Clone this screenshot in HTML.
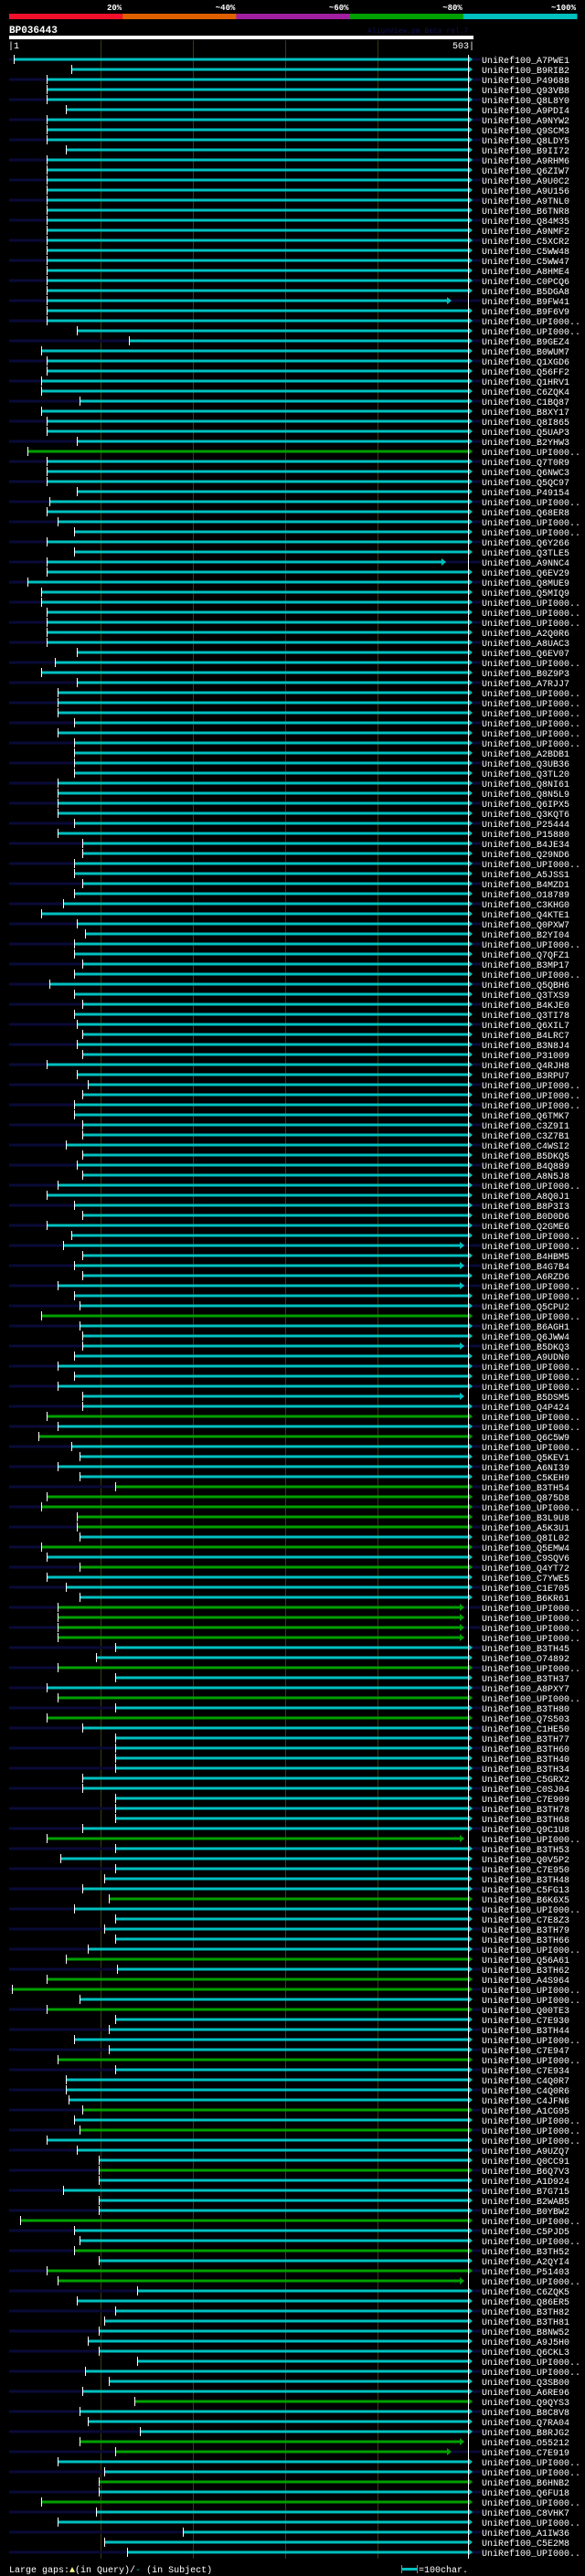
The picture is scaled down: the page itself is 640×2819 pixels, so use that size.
<!DOCTYPE html>
<html><head><meta charset="utf-8">
<style>
html,body{margin:0;padding:0;background:#000;}
svg{display:block;}
text{font-family:"Liberation Mono","DejaVu Sans Mono",monospace;}
</style></head>
<body>
<svg id="chart" width="640" height="2819" viewBox="0 0 640 2819" xmlns="http://www.w3.org/2000/svg">
  <rect x="0" y="0" width="640" height="2819" fill="#000"/>
  <g id="identity-scale"></g>
  <text x="10" y="36" fill="#fff" font-size="11" font-weight="bold">BP036443</text>
  <text x="402" y="36" fill="#10104a" font-size="8">AlignView.pm Beta rel.7</text>
  <rect x="10" y="39" width="508" height="4" fill="#fff"/>
  <text x="9" y="53" fill="#fff" font-size="10">|1</text>
  <text x="519" y="53" fill="#fff" font-size="10" text-anchor="end">503|</text>
  <g id="grid"></g>
  <g id="rows"></g>
  <rect x="512" y="60" width="1" height="2740" fill="#fff"/>
  <text x="10" y="2815" fill="#fff" font-size="10">Large gaps:<tspan fill="#ffff80">▲</tspan>(in Query)/<tspan fill="#00c0c0">-</tspan> (in Subject)</text>
  <g>
    <rect x="439" y="2810" width="17" height="3" fill="#00c0c0"/>
    <rect x="439" y="2807" width="1" height="9" fill="#888"/>
    <rect x="456" y="2807" width="1" height="9" fill="#888"/>
    <text x="458" y="2815" fill="#fff" font-size="10">=100char.</text>
  </g>
</svg>
<script>
const scaleLabels = ["20%","~40%","~60%","~80%","~100%"];
const scaleColors = ["#f0102a","#e06000","#a020a0","#00a000","#00c0c0"];
const gridResidues = [101, 202, 303, 404];
const queryLength = 503;

const names = ["A7PWE1","B9RIB2","P49688","Q93VB8","Q8L8Y0","A9PDI4","A9NYW2","Q9SCM3","Q8LDY5","B9II72","A9RHM6","Q6ZIW7","A9U0C2","A9U156","A9TNL0","B6TNR8","Q84M35","A9NMF2","C5XCR2","C5WW48","C5WW47","A8HME4","C0PCQ6","B5DGA8","B9FW41","B9F6V9","UPI000..",
"UPI000..","B9GEZ4","B0WUM7","Q1XGD6","Q56FF2","Q1HRV1","C6ZQK4","C1BQ87","B8XY17","Q8I865","Q5UAP3","B2YHW3","UPI000..","Q7T0R9","Q6NWC3","Q5QC97","P49154","UPI000..","Q68ER8","UPI000..","UPI000..","Q6Y266","Q3TLE5","A9NNC4","Q6EV29","Q8MUE9","Q5MIQ9",
"UPI000..","UPI000..","UPI000..","A2Q0R6","A8UAC3","Q6EV07","UPI000..","B0Z9P3","A7RJJ7","UPI000..","UPI000..","UPI000..","UPI000..","UPI000..","UPI000..","A2BDB1","Q3UB36","Q3TL20","Q8NI61","Q8N5L9","Q6IPX5","Q3KQT6","P25444","P15880","B4JE34","Q29ND6","UPI000..",
"A5JSS1","B4MZD1","O18789","C3KHG0","Q4KTE1","Q0PXW7","B2YI04","UPI000..","Q7QFZ1","B3MP17","UPI000..","Q5QBH6","Q3TXS9","B4KJE0","Q3TI78","Q6XIL7","B4LRC7","B3N8J4","P31009","Q4RJH8","B3RPU7","UPI000..","UPI000..","UPI000..","Q6TMK7","C3Z9I1","C3Z7B1",
"C4WSI2","B5DKQ5","B4Q889","A8N5J8","UPI000..","A8Q0J1","B8P3I3","B0D0D6","Q2GME6","UPI000..","UPI000..","B4HBM5","B4G7B4","A6RZD6","UPI000..","UPI000..","Q5CPU2","UPI000..","B6AGH1","Q6JWW4","B5DKQ3","A9UDN0","UPI000..","UPI000..","UPI000..","B5DSM5","Q4P424",
"UPI000..","UPI000..","Q6C5W9","UPI000..","Q5KEV1","A6NI39","C5KEH9","B3TH54","Q875D8","UPI000..","B3L9U8","A5K3U1","Q8IL02","Q5EMW4","C9SQV6","Q4YT72","C7YWE5","C1E705","B6KR61","UPI000..","UPI000..","UPI000..","UPI000..","B3TH45","O74892","UPI000..","B3TH37",
"A8PXY7","UPI000..","B3TH80","Q7S503","C1HE50","B3TH77","B3TH60","B3TH40","B3TH34","C5GRX2","C0SJ04","C7E909","B3TH78","B3TH68","Q9C1U8","UPI000..","B3TH53","Q0V5P2","C7E950","B3TH48","C5FG13","B6K6X5","UPI000..","C7E8Z3","B3TH79","B3TH66","UPI000..",
"Q56A61","B3TH62","A4S964","UPI000..","UPI000..","Q00TE3","C7E930","B3TH44","UPI000..","C7E947","UPI000..","C7E934","C4Q0R7","C4Q0R6","C4JFN6","A1CG95","UPI000..","UPI000..","UPI000..","A9UZQ7","Q0CC91","B6Q7V3","A1D924","B7G715","B2WAB5","B0YBW2","UPI000..",
"C5PJD5","UPI000..","B3TH52","A2QYI4","P51403","UPI000..","C6ZQK5","Q86ER5","B3TH82","B3TH81","B8NW52","A9J5H0","Q6CKL3","UPI000..","UPI000..","Q3SB00","A6RE96","Q9QYS3","B8C8V8","Q7RA04","B8RJG2","O55212","C7E919","UPI000..","UPI000..",
"B6HNB2","Q6FU18","UPI000..","C8VHK7","UPI000..","A1IW36","C5E2M8","UPI000.."];

const starts = [6,69,42,42,42,63,42,42,42,63,42,42,42,42,42,42,42,42,42,42,42,42,42,42,42,42,42,
75,132,36,42,42,36,36,78,36,42,42,75,21,42,42,42,75,45,42,54,72,42,72,42,42,21,36,
36,42,42,42,42,75,51,36,75,54,54,54,72,54,72,72,72,72,54,54,54,54,72,54,81,81,72,
72,81,72,60,36,75,84,72,72,81,72,45,72,81,72,75,81,75,81,42,75,87,81,72,72,81,81,
63,81,75,81,54,42,72,81,42,69,60,81,72,81,54,72,78,36,78,81,81,72,54,72,54,81,81,
42,54,33,69,78,54,78,117,42,36,75,75,78,36,42,78,42,63,78,54,54,54,54,117,96,54,117,
42,54,117,42,81,117,117,117,117,81,81,117,117,117,81,42,117,57,117,105,81,110,72,117,105,117,87,
63,119,42,4,78,42,117,110,72,110,54,117,63,63,66,81,72,78,42,75,99,99,99,60,99,99,13,
72,78,72,99,42,54,141,75,117,105,99,87,99,141,84,110,81,138,78,87,144,78,117,54,105,
99,99,36,96,54,191,105,130];

const identityClass = ("ccccccccccccccccccccccccccc" + "ccccccccccccgcccccccccccccc" + "ccccccccccccccccccccccccccc" +
  "ccccccccccccccccccccccccccc" + "cccccccccccccccccgccccccccc" + "gcgccccgggggcgcgcccggggccgc" +
  "cgcgcccccccccccgcccccgccccc" + "gcggcgccccgccccgcgcccgccccg" + "ccgcggcccccccccccgcccgg" + "ccgcgccc").split("");

const shortRows = [25, 51, 119, 121, 123, 129, 134, 155, 156, 157, 158, 178, 222, 238, 239];
const shortEnds = [480, 474, 494, 494, 494, 494, 494, 494, 494, 494, 494, 494, 494, 494, 480];

const NS = "http://www.w3.org/2000/svg";
const xOf = r => 10 + (r - 1) * (502 / (queryLength - 1));
const rowY = i => 65 + i * 11;
const colorOf = k => k === "g" ? "#00a000" : "#00c0c0";
function mk(tag, attrs) { const e = document.createElementNS(NS, tag); for (const k in attrs) e.setAttribute(k, attrs[k]); return e; }

// identity scale
const scaleG = document.getElementById("identity-scale");
scaleLabels.forEach((lab, i) => {
  const x0 = 10 + i * 124.2, w = 124.2;
  const seg = mk("rect", {x: x0, y: 15, width: w + 0.5, height: 6, fill: scaleColors[i]});
  
  
  scaleG.appendChild(seg);
  const t = mk("text", {x: x0 + w - 1, y: 11, fill: "#fff", "font-size": "9", "font-weight": "bold", "text-anchor": "end"});
  t.textContent = lab;
  
  
  scaleG.appendChild(t);
});

// grid
const gridG = document.getElementById("grid");
gridResidues.forEach(r => {
  const l = mk("rect", {x: Math.round(xOf(r)), y: 44, width: 1, height: 2756, fill: "#3a3a12"});
  
  
  gridG.appendChild(l);
});

// rows
const rowsG = document.getElementById("rows");
names.forEach((nm, i) => {
  const cy = rowY(i);
  const g = mk("g", {});
  
  
  if (i % 2 === 0) {
    const ext = mk("rect", {x: 10, y: cy - 1.5, width: 516, height: 3, fill: "#0a0a38"});
    
    
    g.appendChild(ext);
  }
  const si = shortRows.indexOf(i + 1);
  const end = si >= 0 ? shortEnds[si] : queryLength;
  const x0 = xOf(starts[i]), x1 = xOf(end);
  const col = colorOf(identityClass[i]);
  const bar = mk("rect", {x: x0, y: cy - 1.5, width: x1 - x0, height: 3, fill: col});
  
  
  g.appendChild(bar);
  const arr = mk("polygon", {points: `${x1},${cy - 4} ${x1 + 5},${cy} ${x1},${cy + 4}`, fill: col});
  
  
  g.appendChild(arr);
  const tick = mk("rect", {x: Math.round(x0), y: cy - 5, width: 1, height: 10, fill: "#fff"});
  
  
  g.appendChild(tick);
  const t = mk("text", {x: 527, y: cy + 4, fill: "#fff", "font-size": "10"});
  t.textContent = "UniRef100_" + nm;
  
  
  g.appendChild(t);
  rowsG.appendChild(g);
});
</script>
</body></html>
